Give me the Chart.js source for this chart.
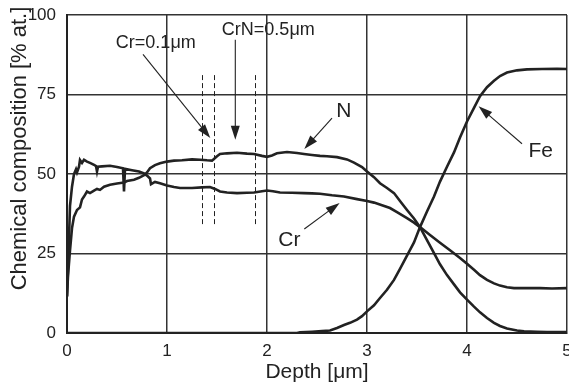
<!DOCTYPE html>
<html><head><meta charset="utf-8">
<script src="https://cdn.jsdelivr.net/npm/chart.js@4/dist/chart.umd.min.js"></script>
<style>html,body{margin:0;padding:0;background:#fff;}</style>
</head><body>
<canvas id="c" width="569" height="389"></canvas>
<script>
// ---- data ----
const xTicks = [0, 1, 2, 3, 4, 5];
const yTicks = [0, 25, 50, 75, 100];
const xTitle = 'Depth [\u03bcm]';
const yTitle = 'Chemical composition [% at.]';

const nDepth  = [0,0.01,0.02,0.03,0.05,0.07,0.1,0.13,0.15,0.17,0.2,0.23,0.27,0.3,0.33,0.37,0.43,0.5,0.57,0.6,0.67,0.72,0.77,0.8,0.83,0.88,0.93,1.0,1.07,1.15,1.25,1.33,1.4,1.45,1.5,1.53,1.6,1.7,1.8,1.87,1.95,2.0,2.05,2.1,2.2,2.3,2.37,2.45,2.53,2.6,2.7,2.8,2.87,2.95,3.0,3.07,3.13,3.2,3.27,3.33,3.4,3.47,3.53,3.6,3.67,3.73,3.8,3.87,3.93,4.0,4.07,4.13,4.2,4.27,4.33,4.4,4.5,4.57,4.7,4.8,5.0];
const nValues = [11.5,18,22,26,33,36.6,38.7,39.5,42,42.9,44.5,44,44.8,45.3,45,46,46.6,47,47.3,47.8,48.2,48.8,49.6,50.5,51.8,52.8,53.4,53.9,54.2,54.3,54.6,54.5,54.3,54.2,55.6,56.3,56.5,56.7,56.4,56.3,55.7,55.4,55.8,56.5,56.9,56.6,56.3,56.0,55.7,55.6,55.3,54.6,53.6,52.2,50.8,49,47.1,45.6,44,41.5,38.7,36,33.3,29.2,25.1,21.6,18.2,15.3,12.8,10.5,8.3,6.5,4.7,3.2,2.2,1.4,0.8,0.5,0.4,0.3,0.3];

const crDepth  = [0,0.01,0.02,0.03,0.05,0.07,0.09,0.1,0.12,0.13,0.15,0.17,0.2,0.23,0.27,0.29,0.3,0.31,0.35,0.43,0.5,0.56,0.57,0.58,0.65,0.72,0.77,0.8,0.83,0.84,0.88,0.93,1.0,1.07,1.13,1.25,1.35,1.43,1.48,1.53,1.6,1.7,1.8,1.87,1.95,2.0,2.06,2.13,2.25,2.37,2.45,2.53,2.65,2.77,2.9,3.0,3.07,3.15,3.23,3.3,3.4,3.47,3.53,3.63,3.73,3.83,3.93,4.0,4.07,4.13,4.2,4.27,4.33,4.4,4.47,4.6,4.73,4.85,5.0];
const crValues = [11.5,20,30,40,46,50,51.5,50.5,52.3,54.4,53.5,54.5,53.9,53.5,52.9,52.5,50.8,52.3,52.4,52.6,52.2,51.8,44.5,51.6,51.2,50.8,50.2,49.5,48.6,46.8,47.5,47.1,46.4,45.9,45.6,45.6,45.8,45.9,45.3,44.5,44.2,44,44.1,44.2,44.6,44.8,44.6,44.2,44.1,44,43.9,43.8,43.3,42.9,42.1,41.5,41,40.2,39.3,38,36.1,34.7,33.3,30.8,28.4,26.0,23.6,21.8,19.9,18.2,16.7,15.6,14.9,14.4,14.1,14.1,14.1,14,14.1];

const feDepth  = [0,1,2,2.3,2.33,2.45,2.55,2.63,2.7,2.77,2.83,2.9,2.95,3.0,3.07,3.13,3.2,3.27,3.33,3.4,3.47,3.53,3.6,3.67,3.73,3.8,3.87,3.93,4.0,4.07,4.13,4.2,4.27,4.33,4.4,4.5,4.6,4.75,4.9,5.0];
const feValues = [0,0,0,0,0.2,0.4,0.6,0.8,1.6,2.5,3.2,4.2,5.3,6.8,8.7,11,13.6,16.7,20.2,24.3,28.5,33.3,38.2,42.9,47.6,52.3,56.8,61.5,66.5,70.8,74.5,77.3,79.3,80.8,81.9,82.6,82.9,83,83.1,83];

// ---- annotations (data coordinates) ----
const labels = [
  {text: 'Cr=0.1\u03bcm', x: 0.888, y: 91.1, size: 18},
  {text: 'CrN=0.5\u03bcm', x: 2.013, y: 95.4, size: 18},
  {text: 'N', x: 2.768, y: 69.6, size: 21},
  {text: 'Cr', x: 2.223, y: 29.3, size: 21},
  {text: 'Fe', x: 4.738, y: 57.3, size: 21}
];
const arrows = [
  {x1: 0.76, y1: 87.6, x2: 1.433, y2: 61.3},
  {x1: 1.683, y1: 92.2, x2: 1.683, y2: 60.8},
  {x1: 2.65, y1: 67.6, x2: 2.373, y2: 57.9},
  {x1: 2.373, y1: 32.7, x2: 2.726, y2: 40.9},
  {x1: 4.55, y1: 59.5, x2: 4.116, y2: 71.3}
];
const dashedX = [1.35, 1.473, 1.876];
const dashedRange = [33.7, 81.1];

const pts = (xs, ys) => xs.map((x, i) => ({x: x, y: ys[i]}));
const INK = '#222';
const FONT = "'Liberation Sans', Arial, sans-serif";

const annotPlugin = {
  id: 'annot',
  afterDatasetsDraw(chart) {
    const ctx = chart.ctx, xs = chart.scales.x, ys = chart.scales.y;
    ctx.save();
    ctx.strokeStyle = INK; ctx.lineWidth = 1; ctx.setLineDash([5, 3]);
    dashedX.forEach(d => {
      const px = Math.round(xs.getPixelForValue(d)) + 0.5;
      ctx.beginPath();
      ctx.moveTo(px, ys.getPixelForValue(dashedRange[1]));
      ctx.lineTo(px, ys.getPixelForValue(dashedRange[0]));
      ctx.stroke();
    });
    ctx.setLineDash([]);
    arrows.forEach(a => {
      const x1 = xs.getPixelForValue(a.x1), y1 = ys.getPixelForValue(a.y1);
      const x2 = xs.getPixelForValue(a.x2), y2 = ys.getPixelForValue(a.y2);
      const ang = Math.atan2(y2 - y1, x2 - x1);
      const L = 14, W = 4.5;
      ctx.strokeStyle = INK; ctx.fillStyle = INK; ctx.lineWidth = 1.1;
      ctx.beginPath(); ctx.moveTo(x1, y1);
      ctx.lineTo(x2 - Math.cos(ang) * L * 0.8, y2 - Math.sin(ang) * L * 0.8); ctx.stroke();
      ctx.beginPath();
      ctx.moveTo(x2, y2);
      ctx.lineTo(x2 - Math.cos(ang) * L - Math.sin(ang) * W, y2 - Math.sin(ang) * L + Math.cos(ang) * W);
      ctx.lineTo(x2 - Math.cos(ang) * L + Math.sin(ang) * W, y2 - Math.sin(ang) * L - Math.cos(ang) * W);
      ctx.closePath(); ctx.fill();
    });
    ctx.fillStyle = INK; ctx.textAlign = 'center'; ctx.textBaseline = 'middle';
    labels.forEach(l => {
      ctx.font = l.size + 'px ' + FONT;
      ctx.fillText(l.text, xs.getPixelForValue(l.x), ys.getPixelForValue(l.y));
    });
    ctx.restore();
  },
  afterDraw(chart) {
    const ctx = chart.ctx;
    ctx.save();
    ctx.translate(20, 148.5);
    ctx.rotate(-Math.PI / 2);
    ctx.fillStyle = INK; ctx.font = '22px ' + FONT;
    ctx.textAlign = 'center'; ctx.textBaseline = 'middle';
    ctx.fillText(yTitle, 0, 0);
    ctx.restore();
  }
};

const lineStyle = {borderColor: INK, borderWidth: 2.6, pointRadius: 0, tension: 0, fill: false};

new Chart(document.getElementById('c'), {
  type: 'line',
  data: {
    datasets: [
      Object.assign({label: 'N', data: pts(nDepth, nValues)}, lineStyle),
      Object.assign({label: 'Cr', data: pts(crDepth, crValues)}, lineStyle),
      Object.assign({label: 'Fe', data: pts(feDepth, feValues)}, lineStyle)
    ]
  },
  options: {
    responsive: false,
    animation: false,
    devicePixelRatio: 1,
    layout: {autoPadding: false, padding: {top: 15, right: 2, left: 0, bottom: 0}},
    plugins: {legend: {display: false}, tooltip: {enabled: false}},
    scales: {
      x: {
        type: 'linear', min: 0, max: 5,
        afterBuildTicks: s => { s.ticks = xTicks.map(v => ({value: v})); },
        afterFit: s => { s.height = 56; s.paddingLeft = 0; s.paddingRight = 0; s.paddingTop = 0; s.paddingBottom = 0; },
        grid: {color: '#333', lineWidth: 1.5, drawTicks: false},
        border: {color: INK, width: 2},
        ticks: {color: INK, padding: 8, font: {family: FONT, size: 17}, maxRotation: 0},
        title: {display: true, text: xTitle, color: INK, font: {family: FONT, size: 21}, padding: {top: 0, bottom: 4}}
      },
      y: {
        type: 'linear', min: 0, max: 100,
        afterBuildTicks: s => { s.ticks = yTicks.map(v => ({value: v})); },
        afterFit: s => { s.width = 67; s.paddingLeft = 0; s.paddingRight = 0; s.paddingTop = 0; s.paddingBottom = 0; },
        grid: {color: '#333', lineWidth: 1.5, drawTicks: false},
        border: {color: INK, width: 2},
        ticks: {color: INK, padding: 11, font: {family: FONT, size: 17}}
      }
    }
  },
  plugins: [annotPlugin]
});
</script>
</body></html>
